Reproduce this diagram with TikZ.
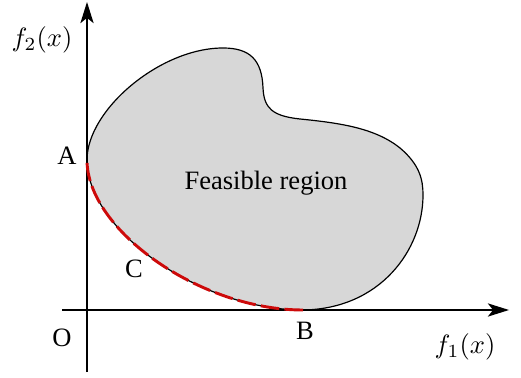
\documentclass[tikz,border=0pt]{standalone}
\usepackage{fontspec}
\setmainfont{Liberation Serif}
\usetikzlibrary{arrows.meta}
\definecolor{regiongray}{RGB}{215,215,215}
\definecolor{frontred}{RGB}{205,10,10}
\tikzset{
  axis/.style={line width=0.5pt,-{Stealth[length=8pt,width=5pt,inset=2pt]}},
  blob/.style={draw=black,line width=0.45pt,fill=regiongray},
  front/.style={draw=frontred,line width=1.1pt,dash pattern=on 7pt off 2pt},
  lbl/.style={inner sep=0pt,font=\fontsize{10}{12}\selectfont}
}
\begin{document}
\begin{tikzpicture}[x=0.377pt,y=-0.377pt]
\useasboundingbox (0,0) rectangle (521,378);
% feasible region
\coordinate (A) at (87,160);
\coordinate (B) at (303,310);
\path[blob] (A) .. controls (87,110) and (160,48) .. (223,48)
  .. controls (250,48) and (262,60) .. (263,88)
  .. controls (264,108) and (272,116) .. (300,119)
  .. controls (340,123) and (375,128) .. (400,148)
  .. controls (420,165) and (423,180) .. (423,195)
  .. controls (423,250) and (380,309) .. (B)
  .. controls (200,310) and (87,230) .. (A) -- cycle;
% axes
\coordinate (ybot) at (87,372);
\coordinate (ytop) at (87,2);
\coordinate (xleft) at (62,310);
\coordinate (xright) at (509,310);
\draw[axis] (ybot) -- (ytop);
\draw[axis] (xleft) -- (xright);
% pareto front
\draw[front] (B) .. controls (200,310) and (87,230) .. (A);
% labels
\node[lbl] (f2) at (42,40) {$f_2(x)$};
\node[lbl] (f1) at (465,347) {$f_1(x)$};
\node[lbl] (O) at (62,338) {O};
\node[lbl] (Bl) at (305,331) {B};
\node[lbl] (Al) at (67,156) {A};
\node[lbl] (Cl) at (134,269) {C};
\node[lbl] (fr) at (266,183) {Feasible region};
\end{tikzpicture}
\end{document}
